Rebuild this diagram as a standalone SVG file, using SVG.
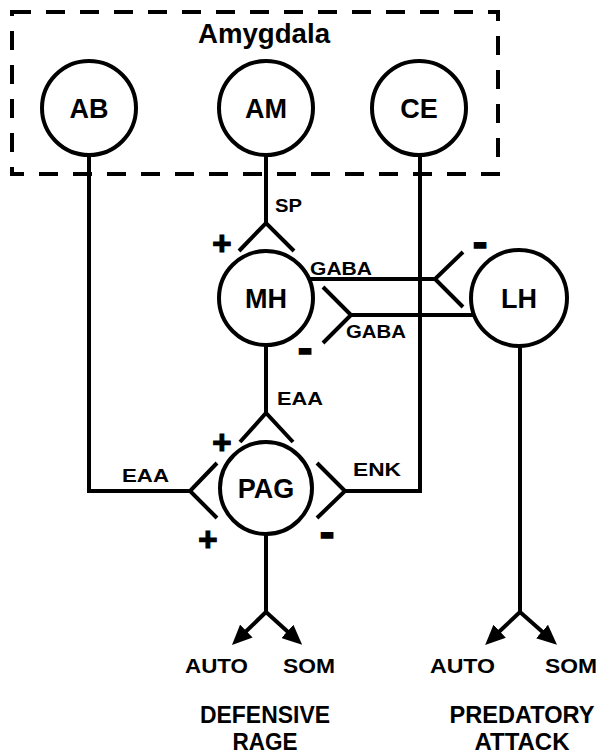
<svg xmlns="http://www.w3.org/2000/svg" width="599" height="754" viewBox="0 0 599 754">
<style>
.ln{fill:none;stroke:#000;stroke-width:4;stroke-linejoin:miter;stroke-linecap:butt}
.nd{fill:#fff;stroke:#000;stroke-width:4}
.t{font-family:"Liberation Sans",Arial,sans-serif;font-weight:bold;fill:#000}
.big{font-size:27px;text-anchor:middle}
.lb{font-size:19px}
.out{font-size:21px}
.beh{font-size:23px;text-anchor:middle}
.pl{font-size:33px;text-anchor:middle;stroke:#000;stroke-width:1.2}
.mi{font-size:44px;text-anchor:middle;stroke:#000;stroke-width:1.5}
</style>
<defs>
<marker id="ah" viewBox="0 0 20 18" refX="14" refY="9" markerWidth="20" markerHeight="18" markerUnits="userSpaceOnUse" orient="auto">
<path d="M0,0 L20,9 L0,18 Z" fill="#000"/>
</marker>
</defs>
<rect width="599" height="754" fill="#fff"/>
<g id="amygdala">
<rect x="12" y="12" width="486" height="162" fill="none" stroke="#000" stroke-width="4" stroke-dasharray="19 15"/>
<text class="t big" x="264" y="43" textLength="132" lengthAdjust="spacingAndGlyphs">Amygdala</text>
</g>
<g id="connectors">
<polyline class="ln" points="89,155 89,491 190,491"/>
<polyline class="ln" points="217,463 190,491 217,518"/>
<line class="ln" x1="266" y1="155" x2="266" y2="223"/>
<polyline class="ln" points="239,251 266,223 294,251"/>
<line class="ln" x1="266" y1="345" x2="266" y2="413"/>
<polyline class="ln" points="240,442 266,413 293,442"/>
<polyline class="ln" points="420,155 420,491 345,491"/>
<polyline class="ln" points="317,463 345,491 317,518"/>
<line class="ln" x1="309" y1="279" x2="435" y2="279"/>
<polyline class="ln" points="463,252 435,279 463,307"/>
<line class="ln" x1="474" y1="315" x2="351" y2="315"/>
<polyline class="ln" points="323,287 351,315 323,343"/>
<polyline class="ln" points="266,534 266,612"/>
<line class="ln" x1="266" y1="612" x2="236.3" y2="640.8" marker-end="url(#ah)"/>
<line class="ln" x1="266" y1="612" x2="297.7" y2="640.8" marker-end="url(#ah)"/>
<polyline class="ln" points="520,346 520,612"/>
<line class="ln" x1="520" y1="612" x2="489.5" y2="640.8" marker-end="url(#ah)"/>
<line class="ln" x1="520" y1="612" x2="552.5" y2="640.8" marker-end="url(#ah)"/>
</g>
<g id="AB"><circle class="nd" cx="89" cy="108" r="47"/><text class="t big" x="89" y="118">AB</text></g>
<g id="AM"><circle class="nd" cx="266" cy="108" r="47"/><text class="t big" x="266" y="118">AM</text></g>
<g id="CE"><circle class="nd" cx="419" cy="108" r="47"/><text class="t big" x="419" y="118">CE</text></g>
<g id="MH"><circle class="nd" cx="266" cy="298" r="47"/><text class="t big" x="266" y="308">MH</text></g>
<g id="LH"><circle class="nd" cx="519" cy="298" r="48"/><text class="t big" x="519" y="308">LH</text></g>
<g id="PAG"><circle class="nd" cx="266" cy="488" r="46"/><text class="t big" x="266" y="498">PAG</text></g>
<g id="labels">
<text class="t lb" x="275" y="212" textLength="27" lengthAdjust="spacingAndGlyphs">SP</text>
<text class="t lb" x="310" y="275" textLength="62" lengthAdjust="spacingAndGlyphs">GABA</text>
<text class="t lb" x="346" y="338" textLength="60" lengthAdjust="spacingAndGlyphs">GABA</text>
<text class="t lb" x="277" y="405" textLength="46" lengthAdjust="spacingAndGlyphs">EAA</text>
<text class="t lb" x="122" y="482" textLength="47" lengthAdjust="spacingAndGlyphs">EAA</text>
<text class="t lb" x="353" y="476" textLength="48" lengthAdjust="spacingAndGlyphs">ENK</text>
<text class="t pl" x="222" y="255">+</text>
<text class="t mi" x="480" y="257">-</text>
<text class="t mi" x="305" y="363">-</text>
<text class="t pl" x="222" y="454">+</text>
<text class="t pl" x="208" y="551">+</text>
<text class="t mi" x="327" y="547">-</text>
<text class="t out" x="185" y="673" textLength="63" lengthAdjust="spacingAndGlyphs">AUTO</text>
<text class="t out" x="283" y="673" textLength="52" lengthAdjust="spacingAndGlyphs">SOM</text>
<text class="t out" x="430" y="673" textLength="65" lengthAdjust="spacingAndGlyphs">AUTO</text>
<text class="t out" x="545" y="673" textLength="52" lengthAdjust="spacingAndGlyphs">SOM</text>
<text class="t beh" x="265" y="723" textLength="130" lengthAdjust="spacingAndGlyphs">DEFENSIVE</text>
<text class="t beh" x="265" y="750" textLength="65" lengthAdjust="spacingAndGlyphs">RAGE</text>
<text class="t beh" x="522" y="723" textLength="145" lengthAdjust="spacingAndGlyphs">PREDATORY</text>
<text class="t beh" x="522" y="750" textLength="95" lengthAdjust="spacingAndGlyphs">ATTACK</text>
</g>
</svg>
